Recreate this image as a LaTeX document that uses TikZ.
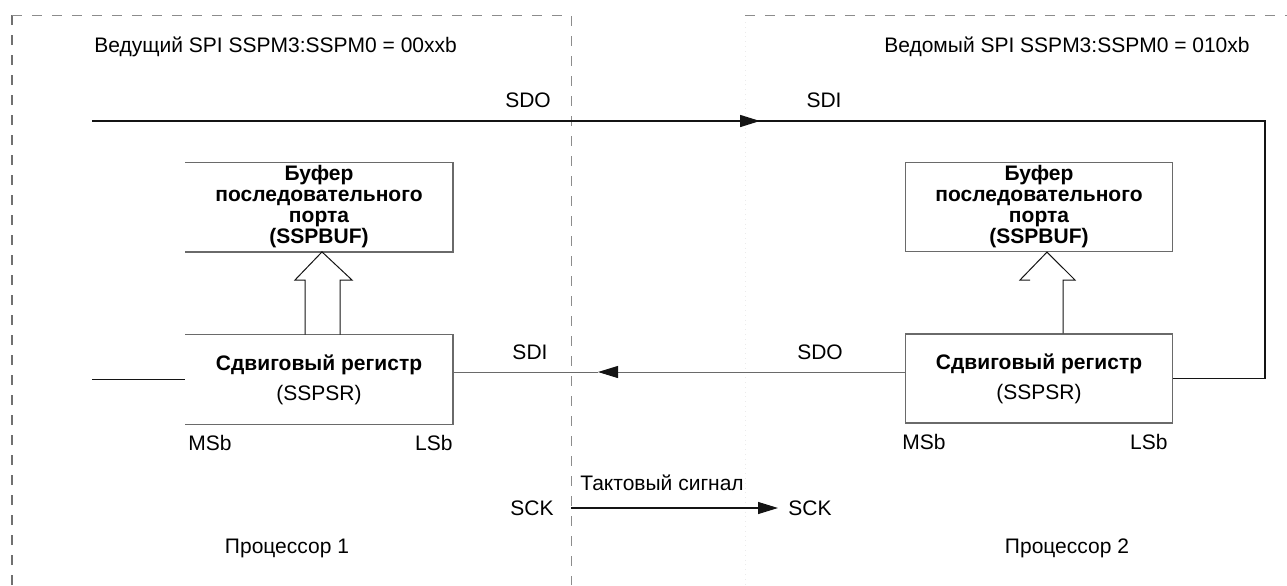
\documentclass[tikz,border=0pt]{standalone}
\usepackage{fontspec}
\setmainfont{Liberation Sans}
\usetikzlibrary{arrows.meta,calc}
\definecolor{Frame}{HTML}{8C8C8C}
\definecolor{Wire}{HTML}{141414}
\definecolor{Soft}{HTML}{6A6A6A}
\tikzset{
  wire/.style={line width=0.75pt,draw=Wire},
  softwire/.style={line width=0.5pt,draw=Soft},
  sig/.style={-{Triangle[length=10pt,width=6pt]},line width=0.75pt,draw=Wire},
  softsig/.style={-{Triangle[length=10pt,width=6pt,color=Wire]},line width=0.5pt,draw=Soft},
  frame/.style={draw=Frame,line width=0.5pt,dash pattern=on 5pt off 5pt},
  boxline/.style={draw=Soft,line width=0.6pt},
  hollow/.style={draw=Wire,line width=0.5pt,line join=miter},
  regbox/.style={minimum width=133.5pt,minimum height=44.5pt,align=center,inner sep=0pt},
  lbl/.style={inner sep=1pt,font=\fontsize{10.5}{12}\selectfont}
}
\begin{document}
\begin{tikzpicture}[x=0.5pt,y=-0.5pt]
  \useasboundingbox (0,0) rectangle (1287,585);
  % frames
  \draw[frame,line width=0.9pt,draw=Frame!80!black] (12,585) -- (12,15);
  \draw[frame] (12,15) -- (571,15) -- (571,585);
  \draw[frame] (745,15) -- (1287,15);
  \draw[draw=black!8,dotted] (745,22) -- (745,585);
  \node[lbl,anchor=west] (titleL) at (92,47) {Ведущий SPI SSPM3:SSPM0 = 00xxb};
  \node[lbl,anchor=east] (titleR) at (1252,47) {Ведомый SPI SSPM3:SSPM0 = 010xb};
  % buffers and shift registers
  \node[regbox,font=\bfseries\fontsize{10.5}{10.5}\selectfont] (buf1) at (319,207) {Буфер\\последовательного\\порта\\(SSPBUF)};
  \node[regbox,font=\bfseries\fontsize{10.5}{10.5}\selectfont,draw=Soft,line width=0.6pt] (buf2) at (1039,207) {Буфер\\последовательного\\порта\\(SSPBUF)};
  \node[regbox,font=\fontsize{10.5}{12}\selectfont] (reg1) at (319,379.5) {\textbf{Сдвиговый регистр}\\[3pt](SSPSR)};
  \node[regbox,font=\fontsize{10.5}{12}\selectfont,draw=Soft,line width=0.6pt] (reg2) at (1039,378.5) {\textbf{Сдвиговый регистр}\\[3pt](SSPSR)};
  \draw[boxline] (buf1.north west) -- (buf1.north east) -- (buf1.south east) -- (buf1.south west);
  \draw[boxline] (reg1.north west) -- (reg1.north east) -- (reg1.south east) -- (reg1.south west);
  \node[lbl,anchor=west] (msb1) at (186,443) {MSb};
  \node[lbl,anchor=east] (lsb1) at (455,443) {LSb};
  \node[lbl,anchor=west] (msb2) at (900,442) {MSb};
  \node[lbl,anchor=east] (lsb2) at (1170,442) {LSb};
  % hollow arrows register -> buffer
  \draw[hollow] (305,0 |- reg1.north) -- (305,280) -- (295,280) -- ([xshift=1.5pt]buf1.south) -- (352,280) -- (340,280) -- (340,0 |- reg1.north);
  \draw[hollow] (1030,280) -- (1020,280) -- ([xshift=4pt]buf2.south) -- (1075,280) -- (1063,280) -- (1063,0 |- reg2.north);
  % SDO -> SDI (top)
  \coordinate (sdoOut) at (92,121);
  \coordinate (tipA) at (760,121);
  \coordinate (cornerA) at (1265,121);
  \draw[wire] (sdoOut) -- (cornerA) |- (reg2.east);
  \draw[sig] (sdoOut) -- (tipA);
  \node[lbl] (sdoA) at (528,100) {SDO};
  \node[lbl] (sdiA) at (824,100) {SDI};
  % SDO -> SDI (middle)
  \coordinate (tipB) at (598,372);
  \draw[softsig] (reg2.west |- tipB) -- (tipB);
  \draw[softwire] (tipB) -- (reg1.east |- tipB);
  \draw[wire,line width=0.6pt] (92,0 |- reg1.west) -- (reg1.west);
  \node[lbl] (sdiB) at (530,352) {SDI};
  \node[lbl] (sdoB) at (820,352) {SDO};
  % clock
  \node[lbl] (sck1) at (532,508) {SCK};
  \node[lbl,anchor=west] (sck2) at (786,508) {SCK};
  \draw[sig,line width=0.6pt,shorten >=4pt] (571,0 |- sck1) -- (sck2.west);
  \node[lbl,anchor=west] (clk) at (578,483) {Тактовый сигнал};
  \node[lbl] (proc1) at (287,548) {Процессор 1};
  \node[lbl] (proc2) at (1067,548) {Процессор 2};
\end{tikzpicture}
\end{document}
